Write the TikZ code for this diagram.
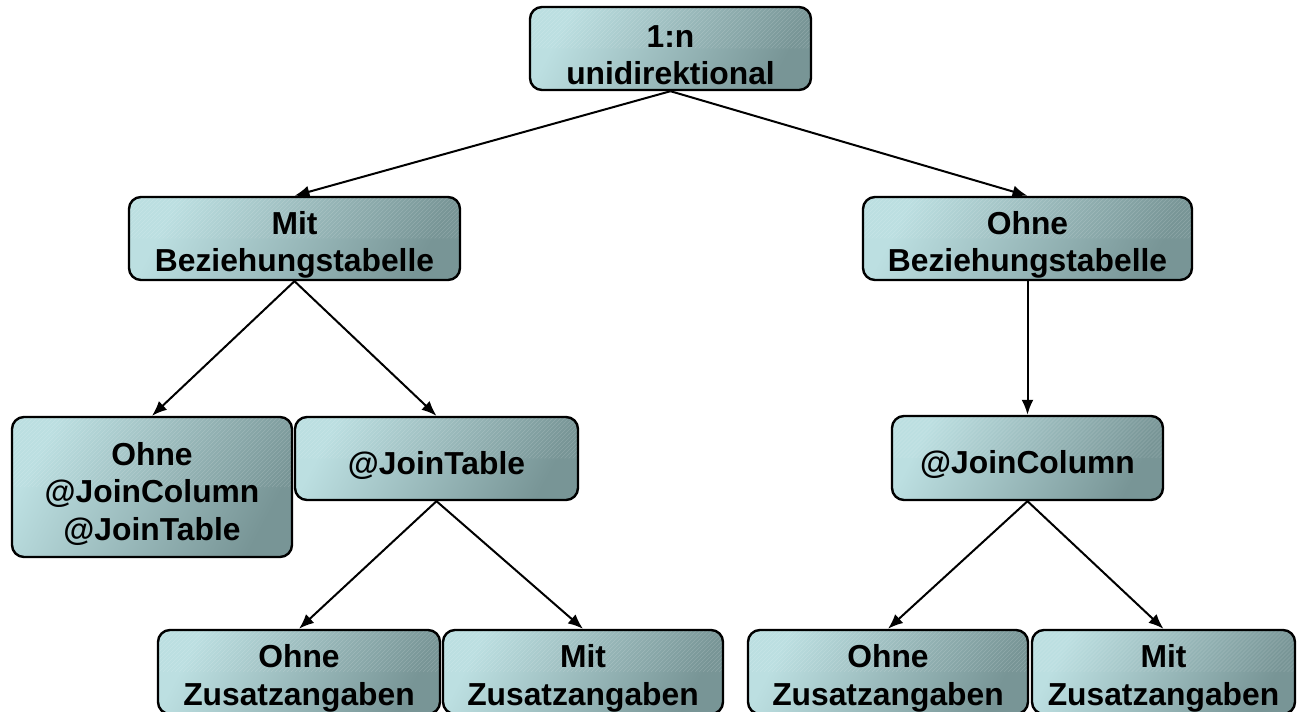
\documentclass[tikz,border=0pt]{standalone}
\usepackage{fontspec}
\setmainfont{Liberation Sans}
\usetikzlibrary{arrows.meta}

\definecolor{boxlight}{HTML}{BCDFE1}
\definecolor{boxdark}{HTML}{789596}

\tikzset{
  treebox/.style={
    draw=black, line width=2.4pt, rounded corners=12pt,
    shading=axis, top color=boxlight, bottom color=boxdark, shading angle=62,
    inner sep=0pt,
    path picture={
      \begin{scope}[shift={(path picture bounding box.south west)}]
        \foreach \k in {-300,-296,...,400}
          \draw[white, opacity=0.16, line width=0.45pt] (\k pt,0) -- ++(300pt,300pt);
      \end{scope}
    }
  },
  boxtext/.style={
    align=center, inner sep=0pt, yshift=-6.5pt,
    font=\fontsize{31.8}{37.5}\selectfont\bfseries
  },
  link/.style={line width=2pt, -{Latex[length=15pt,width=12pt]}}
}

\begin{document}
\begin{tikzpicture}[x=1pt,y=-1pt]
  \useasboundingbox (0,0) rectangle (1299,712);
  \clip (0,0) rectangle (1299,712);

  % first level
  \node[treebox, minimum width=281pt, minimum height=83pt,
        label={[boxtext]center:1:n\\unidirektional}] (top) at (670.5,48.5) {};

  % second level
  \node[treebox, minimum width=331pt, minimum height=83pt,
        label={[boxtext]center:Mit\\Beziehungstabelle}] (mitbez) at (294.5,238.5) {};
  \node[treebox, minimum width=329pt, minimum height=83pt,
        label={[boxtext]center:Ohne\\Beziehungstabelle}] (ohnebez) at (1027.5,238.5) {};

  % third level
  \node[treebox, minimum width=280pt, minimum height=140pt,
        label={[boxtext]center:Ohne\\@JoinColumn\\@JoinTable}] (ohnejc) at (152,487) {};
  \node[treebox, minimum width=283pt, minimum height=83pt,
        label={[boxtext]center:@JoinTable}] (jt) at (436.5,458.5) {};
  \node[treebox, minimum width=271pt, minimum height=84pt,
        label={[boxtext]center:@JoinColumn}] (jc) at (1027.5,458) {};

  % fourth level
  \node[treebox, minimum width=282pt, minimum height=84pt,
        label={[boxtext]center:Ohne\\Zusatzangaben}] (oz1) at (299,672) {};
  \node[treebox, minimum width=280pt, minimum height=84pt,
        label={[boxtext]center:Mit\\Zusatzangaben}] (mz1) at (583,672) {};
  \node[treebox, minimum width=280pt, minimum height=84pt,
        label={[boxtext]center:Ohne\\Zusatzangaben}] (oz2) at (888,672) {};
  \node[treebox, minimum width=263pt, minimum height=84pt,
        label={[boxtext]center:Mit\\Zusatzangaben}] (mz2) at (1163.5,672) {};

  % connectors
  \draw[link] (top.south) -- (mitbez.north);
  \draw[link] (top.south) -- (ohnebez.north);
  \draw[link] (mitbez.south) -- (ohnejc.north);
  \draw[link] (mitbez.south) -- (jt.north);
  \draw[link] (ohnebez.south) -- (jc.north);
  \draw[link] (jt.south) -- (oz1.north);
  \draw[link] (jt.south) -- (mz1.north);
  \draw[link] (jc.south) -- (oz2.north);
  \draw[link] (jc.south) -- (mz2.north);
\end{tikzpicture}
\end{document}
